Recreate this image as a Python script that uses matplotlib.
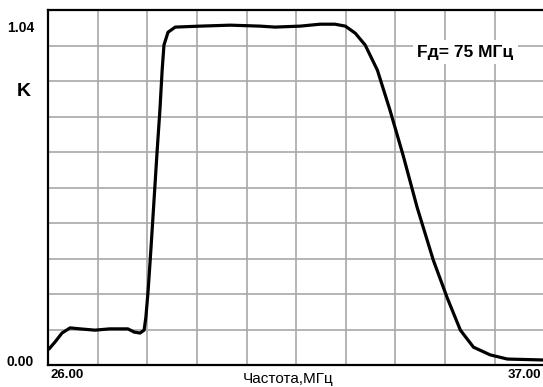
import numpy as np
import matplotlib.pyplot as plt
import matplotlib.transforms as mtransforms

plt.rcParams["font.family"] = ["Liberation Sans", "DejaVu Sans"]

# частота, МГц / коэффициент передачи
freq = [26.02, 26.155, 26.31, 26.49, 26.71, 27.04, 27.37, 27.77, 27.91, 28.04,
        28.13, 28.17, 28.22, 28.28, 28.35, 28.42, 28.48, 28.53, 28.57, 28.66,
        28.82, 29.37, 30.04, 30.70, 31.03, 31.59, 32.03, 32.36, 32.59, 32.81,
        33.03, 33.30, 33.58, 33.87, 34.18, 34.54, 34.85, 35.14, 35.43, 35.80,
        36.18, 37.00]
gain = [0.034, 0.056, 0.084, 0.100, 0.097, 0.093, 0.097, 0.097, 0.087, 0.084,
        0.093, 0.134, 0.218, 0.343, 0.498, 0.654, 0.778, 0.903, 0.981, 1.021,
        1.037, 1.040, 1.043, 1.040, 1.037, 1.040, 1.046, 1.046, 1.040, 1.018,
        0.981, 0.903, 0.778, 0.638, 0.476, 0.311, 0.193, 0.093, 0.040, 0.016,
        0.003, 0.0]
x_labels = ["26.00", "37.00"]
y_labels = ["0.00", "1.04"]

fig = plt.figure(figsize=(5.43, 3.87), dpi=100)
ax = fig.add_axes([0.0884, 0.0568, 0.914, 0.917])

ax.plot(freq, gain, color="black", lw=2.3, solid_capstyle="round",
        solid_joinstyle="round")

xmin, xmax = 26.0, 37.0
ymin, ymax = -0.0156, 1.0898
ax.set_xlim(xmin, xmax)
ax.set_ylim(ymin, ymax)

# сетка 10x10
ax.set_xticks(np.linspace(xmin, xmax, 11), minor=True)
ax.set_yticks(np.linspace(ymin, ymax, 11), minor=True)
ax.grid(which="minor", color="#a8a8a8", lw=1.2)
ax.tick_params(which="both", length=0)

ax.set_yticks([0.0, 1.04], y_labels, fontsize=10, fontweight="bold")
ax.tick_params(axis="y", pad=10)
ax.set_xticks([xmin, xmax], x_labels, fontsize=9.5, fontweight="bold")
ax.tick_params(axis="x", pad=3)
lbls = ax.get_xticklabels()
lbls[0].set_horizontalalignment("left")
lbls[1].set_horizontalalignment("right")
for lb, dx in zip(lbls, [2, -3]):
    lb.set_transform(lb.get_transform() +
                     mtransforms.ScaledTranslation(dx / 100, 0, fig.dpi_scale_trans))

for s in ["left", "bottom", "top"]:
    ax.spines[s].set_linewidth(1.6)
ax.spines["right"].set_visible(False)

ax.text(0.484, -0.04, "Частота,МГц", transform=ax.transAxes,
        ha="center", va="center", fontsize=11)
fig.text(24 / 543, 1 - 91 / 387, "K", ha="center", va="center",
         fontsize=14, fontweight="bold")
ax.text(0.841, 0.882, "Fд= 75 МГц", transform=ax.transAxes, ha="center",
        va="center", fontsize=12.5, fontweight="bold",
        bbox=dict(facecolor="white", edgecolor="none", pad=3))

fig.savefig("out.png", dpi=100)
